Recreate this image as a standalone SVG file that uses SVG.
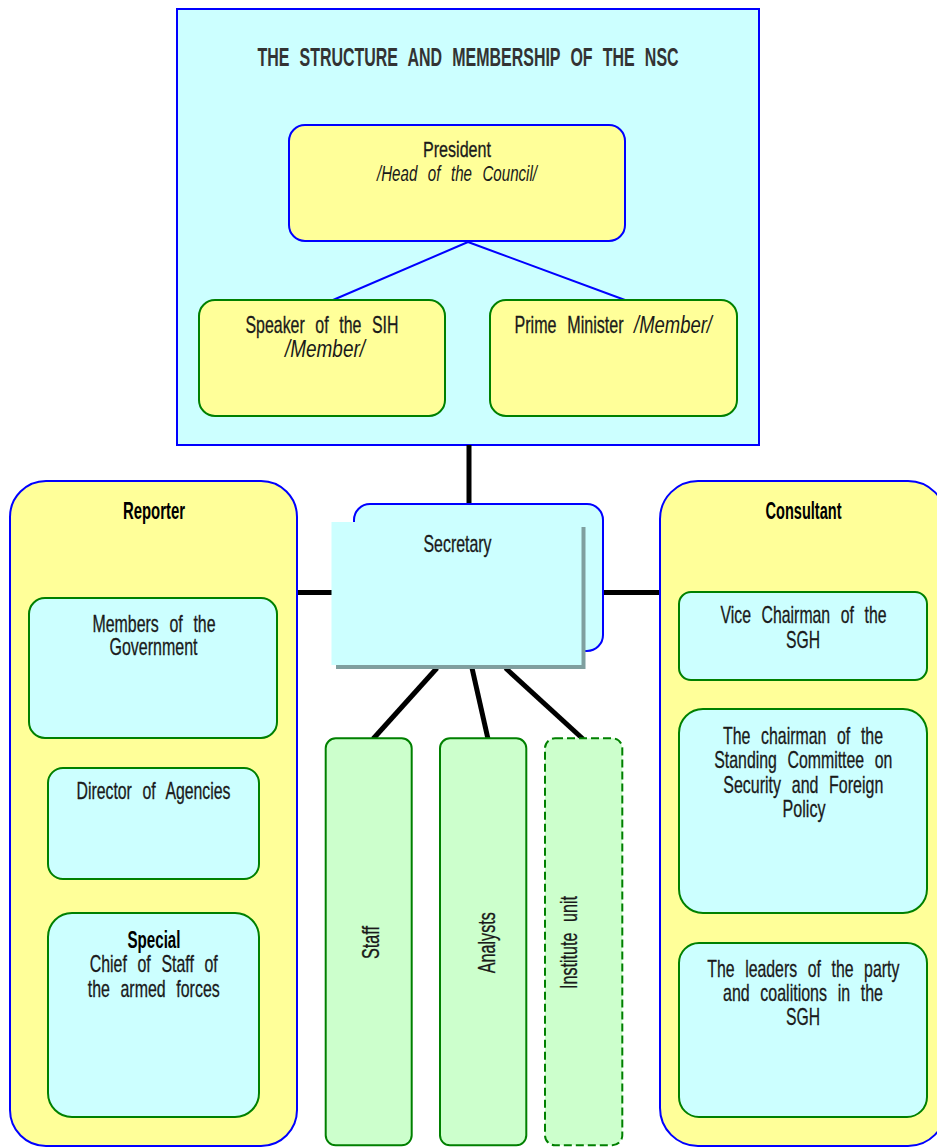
<svg xmlns="http://www.w3.org/2000/svg" width="937" height="1147" viewBox="0 0 937 1147">
<style>
text{font-family:"Liberation Sans",Arial,sans-serif;font-size:23px;fill:#1a1a1a;stroke:#1a1a1a;stroke-width:0.3;text-anchor:middle;word-spacing:9px}
.it{font-style:italic;stroke:none}
.sm{font-size:21.5px}
.b{font-weight:bold;word-spacing:0;fill:#000;stroke:none;font-size:24px}
.title{font-size:25px;font-weight:bold;fill:#333;stroke:none}
.yb{fill:#ffff99;stroke:#0000ff;stroke-width:2}
.yg{fill:#ffff99;stroke:#008000;stroke-width:2}
.cg{fill:#ccffff;stroke:#008000;stroke-width:2}
.gg{fill:#ccffcc;stroke:#008000;stroke-width:2}
.con{stroke:#000;stroke-width:5;fill:none}
</style>
<g id="nsc">
<rect x="177" y="9" width="582" height="436" fill="#ccffff" stroke="#0000ff" stroke-width="2"/>
<text class="title" transform="translate(468,66) scale(0.64,1)" textLength="658" lengthAdjust="spacingAndGlyphs">THE STRUCTURE AND MEMBERSHIP OF THE NSC</text>
</g>
<g id="connectors">
<line x1="468" y1="242" x2="333" y2="300" stroke="#0000ff" stroke-width="2"/>
<line x1="468" y1="242" x2="625" y2="300" stroke="#0000ff" stroke-width="2"/>
<line class="con" x1="469" y1="445" x2="469" y2="505"/>
<line class="con" x1="297" y1="592.5" x2="333" y2="592.5"/>
<line class="con" x1="603" y1="592.5" x2="660" y2="592.5"/>
<line class="con" x1="437" y1="668" x2="373" y2="739"/>
<line class="con" x1="472" y1="668" x2="488" y2="739"/>
<line class="con" x1="505.5" y1="668" x2="583" y2="739"/>
</g>
<g id="president">
<rect class="yb" x="289" y="125" width="336" height="116" rx="16"/>
<text class="sm" transform="translate(457,157.3) scale(0.72,1)" textLength="94.4" lengthAdjust="spacingAndGlyphs">President</text>
<text class="it sm" transform="translate(457,180.5) scale(0.72,1)" textLength="222.2" lengthAdjust="spacingAndGlyphs">/Head of the Council/</text>
</g>
<g id="speaker">
<rect class="yg" x="199" y="300" width="246" height="116" rx="16"/>
<text transform="translate(322,332.5) scale(0.69,1)" textLength="221.7" lengthAdjust="spacingAndGlyphs">Speaker of the SIH</text>
<text class="it" transform="translate(325,356.5) scale(0.69,1)" textLength="115.9" lengthAdjust="spacingAndGlyphs">/Member/</text>
</g>
<g id="pm">
<rect class="yg" x="490" y="300" width="247" height="116" rx="16"/>
<text transform="translate(569,332.5) scale(0.69,1)" textLength="158" lengthAdjust="spacingAndGlyphs">Prime Minister</text>
<text class="it" transform="translate(673,332.5) scale(0.69,1)" textLength="113" lengthAdjust="spacingAndGlyphs">/Member/</text>
</g>
<g id="secretary">
<rect x="354" y="504" width="249" height="147" rx="16" fill="#ccffff" stroke="#0000ff" stroke-width="2"/>
<rect x="336" y="527" width="249.5" height="142" fill="#7f9f9f"/>
<rect x="331.5" y="522" width="250" height="143" fill="#ccffff"/>
<text transform="translate(457.5,551.7) scale(0.69,1)" textLength="98.6" lengthAdjust="spacingAndGlyphs">Secretary</text>
</g>
<g id="reporter">
<rect class="yb" x="10" y="481" width="287" height="665" rx="36"/>
<text class="b" transform="translate(154,519) scale(0.69,1)" textLength="89.9" lengthAdjust="spacingAndGlyphs">Reporter</text>
</g>
<g id="members">
<rect class="cg" x="29" y="598" width="248" height="140" rx="16"/>
<text transform="translate(154,631.5) scale(0.69,1)" textLength="178.3" lengthAdjust="spacingAndGlyphs">Members of the</text>
<text transform="translate(153.5,655) scale(0.69,1)" textLength="127.5" lengthAdjust="spacingAndGlyphs">Government</text>
</g>
<g id="director">
<rect class="cg" x="48" y="768" width="211" height="111" rx="15"/>
<text transform="translate(153.5,799) scale(0.69,1)" textLength="223.2" lengthAdjust="spacingAndGlyphs">Director of Agencies</text>
</g>
<g id="special">
<rect class="cg" x="48" y="913" width="211" height="204" rx="24"/>
<text class="b" transform="translate(154,947.5) scale(0.69,1)" textLength="76.8" lengthAdjust="spacingAndGlyphs">Special</text>
<text transform="translate(153.7,972.3) scale(0.69,1)" textLength="185.5" lengthAdjust="spacingAndGlyphs">Chief of Staff of</text>
<text transform="translate(153.7,996.7) scale(0.69,1)" textLength="191.3" lengthAdjust="spacingAndGlyphs">the armed forces</text>
</g>
<g id="consultant">
<rect class="yb" x="660" y="481" width="286" height="665" rx="38"/>
<text class="b" transform="translate(803.5,519) scale(0.69,1)" textLength="110.1" lengthAdjust="spacingAndGlyphs">Consultant</text>
</g>
<g id="vice">
<rect class="cg" x="679" y="592" width="248" height="88" rx="12"/>
<text transform="translate(803.5,622.7) scale(0.69,1)" textLength="240.6" lengthAdjust="spacingAndGlyphs">Vice Chairman of the</text>
<text transform="translate(803,647.5) scale(0.69,1)" textLength="49.3" lengthAdjust="spacingAndGlyphs">SGH</text>
</g>
<g id="chairman">
<rect class="cg" x="679" y="709" width="248" height="204" rx="24"/>
<text transform="translate(803,744) scale(0.69,1)" textLength="231.9" lengthAdjust="spacingAndGlyphs">The chairman of the</text>
<text transform="translate(803.3,768.3) scale(0.69,1)" textLength="258" lengthAdjust="spacingAndGlyphs">Standing Committee on</text>
<text transform="translate(803.3,793) scale(0.69,1)" textLength="231.9" lengthAdjust="spacingAndGlyphs">Security and Foreign</text>
<text transform="translate(804,816.7) scale(0.69,1)" textLength="62.3" lengthAdjust="spacingAndGlyphs">Policy</text>
</g>
<g id="leaders">
<rect class="cg" x="679" y="943" width="248" height="174" rx="20"/>
<text transform="translate(803.3,976.7) scale(0.69,1)" textLength="278.3" lengthAdjust="spacingAndGlyphs">The leaders of the party</text>
<text transform="translate(803,1001) scale(0.69,1)" textLength="231.9" lengthAdjust="spacingAndGlyphs">and coalitions in the</text>
<text transform="translate(803,1025) scale(0.69,1)" textLength="49.3" lengthAdjust="spacingAndGlyphs">SGH</text>
</g>
<g id="staff">
<rect class="gg" x="325.7" y="738.3" width="86" height="407" rx="10"/>
<text transform="translate(379.3,942.5) rotate(-90) scale(0.69,1)" textLength="47.8" lengthAdjust="spacingAndGlyphs">Staff</text>
</g>
<g id="analysts">
<rect class="gg" x="440" y="738.3" width="86.3" height="407" rx="10"/>
<text transform="translate(495,942.7) rotate(-90) scale(0.69,1)" textLength="88.4" lengthAdjust="spacingAndGlyphs">Analysts</text>
</g>
<g id="institute">
<rect class="gg" x="545" y="738.3" width="77.3" height="407" rx="10" stroke-dasharray="8,4"/>
<text transform="translate(577.3,942.5) rotate(-90) scale(0.69,1)" textLength="134.8" lengthAdjust="spacingAndGlyphs">Institute unit</text>
</g>
</svg>
